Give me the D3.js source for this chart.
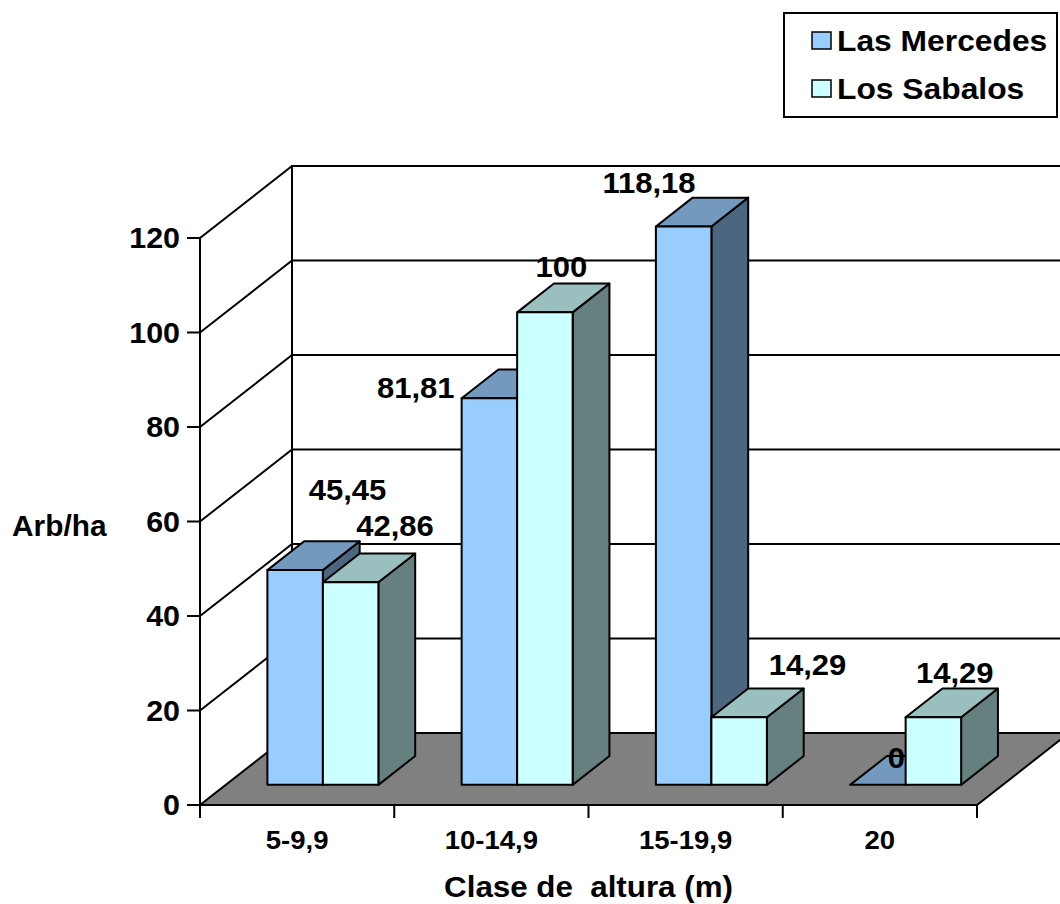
<!DOCTYPE html>
<html><head><meta charset="utf-8">
<script src="https://cdn.jsdelivr.net/npm/d3@7"></script>
<style>
body{margin:0;background:#fff}
svg{display:block}
text{font-family:"Liberation Sans",Arial,Helvetica,sans-serif;font-weight:bold;fill:#000;white-space:pre}
</style>
</head><body>
<svg id="c" width="1060" height="904"></svg>
<script>
// ---------- data ----------
const categories = ["5-9,9", "10-14,9", "15-19,9", "20"];
const seriesNames = ["Las Mercedes", "Los Sabalos"];
const lasMercedes = [45.45, 81.81, 118.18, 0];
const losSabalos = [42.86, 100, 14.29, 14.29];
const labelsLasMercedes = ["45,45", "81,81", "118,18", "0"];
const labelsLosSabalos = ["42,86", "100", "14,29", "14,29"];
const yTicks = [0, 20, 40, 60, 80, 100, 120];
const yTitle = "Arb/ha";
const xTitle = "Clase de  altura (m)";

// ---------- styling / layout ----------
const frontColors = ["#99CCFF", "#CCFFFF"];
const topColors = ["#7399BF", "#99BFBF"];
const sideColors = ["#4D6680", "#668080"];
// manual label nudges (relative to centre of bar top face), per series
const labelNudge = [
  [[34, -56], [-92, 14], [-53, -19], [0, -2]],
  [[26, -32], [-2, -21], [50, -28], [3, -20]]
];
const X0 = 200, X1 = 977, Y0 = 805, YT = 238;
const DX = 92, DY = -72;          // full depth offset
const ZF = 0.28, ZB = 0.68;       // bar depth (front/back fraction)

const svg = d3.select("#c");
const y = d3.scaleLinear().domain([0, 120]).range([Y0, YT]);
const xc = d3.scaleBand().domain(categories).range([X0, X1]);
const xs = d3.scaleBand().domain(seriesNames).range([0, xc.bandwidth()]).paddingOuter(0.75);
const P = (x, v, z) => [x + DX * z, y(v) + DY * z];
const poly = pts => "M" + pts.map(p => p.join(",")).join("L") + "Z";

const series = [lasMercedes, losSabalos];
const seriesLabels = [labelsLasMercedes, labelsLosSabalos];
const yMax = d3.max(yTicks);

// walls
svg.append("path").attr("d", poly([P(X0,0,0),P(X0,yMax,0),P(X0,yMax,1),P(X0,0,1)])).attr("fill","#fff");
svg.append("path").attr("d", poly([P(X0,0,1),P(X0,yMax,1),P(X1,yMax,1),P(X1,0,1)])).attr("fill","#fff");
// gridlines
const g = svg.append("g").attr("stroke","#000").attr("stroke-width",2).attr("fill","none");
yTicks.filter(t => t > 0).forEach(t => {
  g.append("path").attr("d", "M" + [P(X0,t,0),P(X0,t,1),P(X1,t,1)].map(p=>p.join(",")).join("L"));
});
g.append("path").attr("d", "M" + [P(X0,0,1),P(X0,yMax,1)].map(p=>p.join(",")).join("L"));
// floor
svg.append("path").attr("d", poly([P(X0,0,0),P(X1,0,0),P(X1,0,1),P(X0,0,1)]))
  .attr("fill","#808080").attr("stroke","#000").attr("stroke-width",2);

// axes
const ax = svg.append("g").attr("stroke","#000").attr("stroke-width",2);
ax.append("line").attr("x1",X0).attr("x2",X0).attr("y1",y(0)).attr("y2",y(yMax));
yTicks.forEach(t => ax.append("line").attr("x1",X0-13).attr("x2",X0).attr("y1",y(t)).attr("y2",y(t)));
ax.append("line").attr("x1",X0).attr("x2",X1).attr("y1",Y0).attr("y2",Y0);
categories.forEach(c => ax.append("line").attr("x1",xc(c)).attr("x2",xc(c)).attr("y1",Y0).attr("y2",Y0+13));
ax.append("line").attr("x1",X1).attr("x2",X1).attr("y1",Y0).attr("y2",Y0+13);

function txt(parent, str, x, yy, size, anchor, sx) {
  return parent.append("text")
    .attr("transform", `translate(${x},${yy}) scale(${sx},1)`)
    .attr("text-anchor", anchor).attr("font-size", size).text(str);
}

// tick labels
yTicks.forEach(t => txt(svg, t, X0 - 20, y(t) + 10, 29, "end", 1.05));
categories.forEach(c => txt(svg, c, xc(c) + xc.bandwidth()/2, 849, 25, "middle", 1.1));
txt(svg, yTitle, 12, 536, 29, "start", 1.03);
txt(svg, xTitle, (X0 + X1)/2, 897, 29, "middle", 1.08);

// bars
const bars = svg.append("g").attr("stroke","#000").attr("stroke-width",2).attr("stroke-linejoin","round");
const labelPos = [];
categories.forEach((c, ci) => {
  seriesNames.forEach((s, si) => {
    const v = series[si][ci];
    const xl = xc(c) + xs(s), xr = xl + xs.bandwidth();
    if (v > 0) {
      bars.append("path").attr("d", poly([P(xr,0,ZF),P(xr,v,ZF),P(xr,v,ZB),P(xr,0,ZB)])).attr("fill", sideColors[si]);
    }
    bars.append("path").attr("d", poly([P(xl,v,ZF),P(xr,v,ZF),P(xr,v,ZB),P(xl,v,ZB)])).attr("fill", topColors[si]);
    if (v > 0) {
      bars.append("path").attr("d", poly([P(xl,0,ZF),P(xr,0,ZF),P(xr,v,ZF),P(xl,v,ZF)])).attr("fill", frontColors[si]);
    }
    const ctr = P((xl + xr)/2, v, (ZF + ZB)/2);
    labelPos.push({str: seriesLabels[si][ci], x: ctr[0] + labelNudge[si][ci][0], y: ctr[1] + labelNudge[si][ci][1]});
  });
});
labelPos.forEach(l => txt(svg, l.str, l.x, l.y, 29, "middle", 1.07));

// legend
const lg = svg.append("g");
lg.append("rect").attr("x",784).attr("y",13).attr("width",273).attr("height",104)
  .attr("fill","#fff").attr("stroke","#000").attr("stroke-width",2);
seriesNames.forEach((s, i) => {
  const yy = 32 + i * 48;
  lg.append("rect").attr("x",812).attr("y",yy).attr("width",19).attr("height",17)
    .attr("fill", frontColors[i]).attr("stroke","#000").attr("stroke-width",1.5);
  txt(lg, s, 837, yy + 19, 30, "start", 1.06);
});
</script>
</body></html>
